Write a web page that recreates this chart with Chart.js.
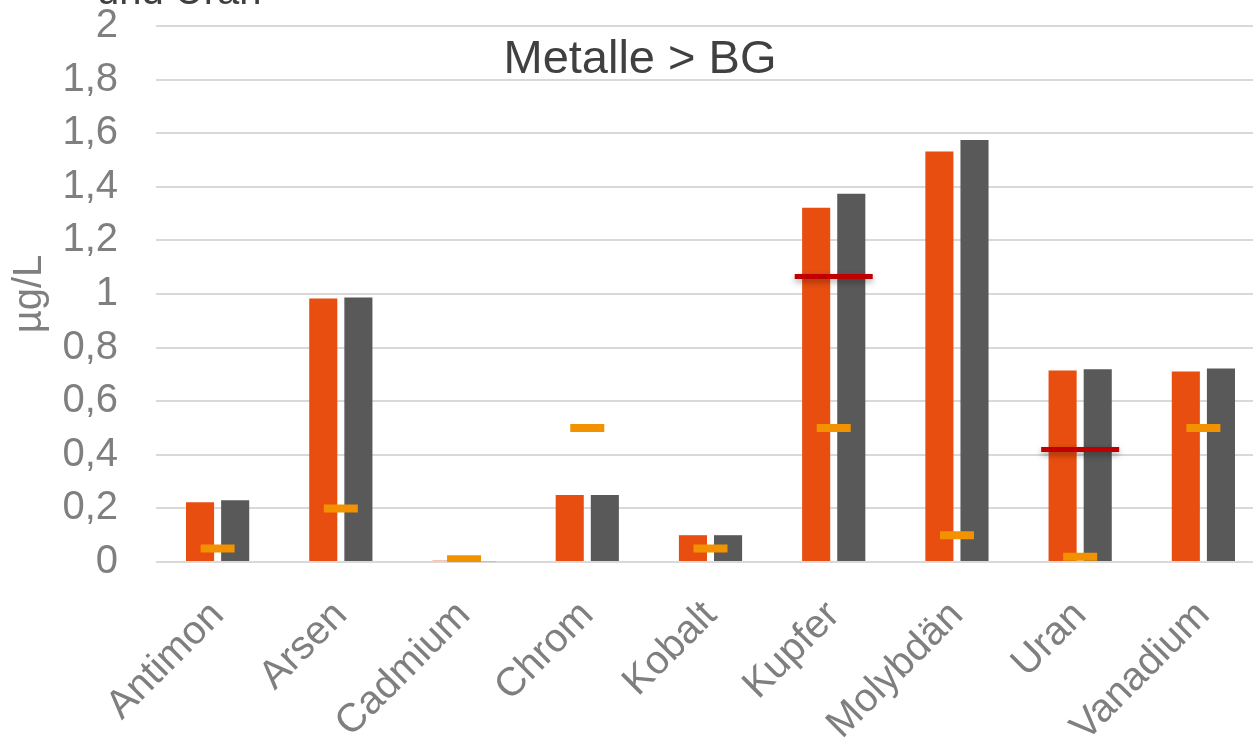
<!DOCTYPE html>
<html>
<head>
<meta charset="utf-8">
<script src="https://cdn.jsdelivr.net/npm/chart.js@4/dist/chart.umd.min.js"></script>
<style>
  body { margin: 0; overflow: hidden; background: #fff; font-family: "Liberation Sans", Arial, sans-serif; }
  #wrap { position: relative; width: 1265px; height: 750px; }
  #topText { position: absolute; left: 97px; top: -30px; font-size: 40px; line-height: 40px; color: #404040; white-space: nowrap; }
  #chartTitle { position: absolute; left: 0; width: 1280px; top: 30px; text-align: center; font-size: 47px; line-height: 54px; color: #404040; z-index: 2; }
</style>
</head>
<body>
<div id="wrap">
  <canvas id="myChart" width="1265" height="750"></canvas>
  <div id="topText">und Uran</div>
  <div id="chartTitle">Metalle &gt; BG</div>
</div>
<script>
var categories = ['Antimon', 'Arsen', 'Cadmium', 'Chrom', 'Kobalt', 'Kupfer', 'Molybdän', 'Uran', 'Vanadium'];
var mittelwert = [0.223, 0.983, 0.005, 0.25, 0.1, 1.322, 1.532, 0.715, 0.711];
var maximum = [0.23, 0.987, 0.003, 0.25, 0.1, 1.374, 1.575, 0.719, 0.722];
var bestimmungsgrenze = [0.05, 0.2, 0.01, 0.5, 0.05, 0.5, 0.1, 0.02, 0.5];
var grenzwert = [null, null, null, null, null, 1.065, null, 0.42, null];
var yTickLabels = ['0', '0,2', '0,4', '0,6', '0,8', '1', '1,2', '1,4', '1,6', '1,8', '2'];

var shadowPlugin = {
    id: 'shadow',
    beforeDatasetDraw: function(chart, args) {
        if (args.index === 3) {
            var ctx = chart.ctx;
            ctx.save();
            ctx.shadowColor = 'rgba(0,0,0,0.35)';
            ctx.shadowBlur = 6;
            ctx.shadowOffsetY = 3;
        }
    },
    afterDatasetDraw: function(chart, args) {
        if (args.index === 3) {
            chart.ctx.restore();
        }
    }
};

// keep the plot area where the original has it
function noPadding(scale) {
    scale.paddingTop = 0;
    scale.paddingBottom = 0;
    scale.paddingLeft = 0;
    scale.paddingRight = 0;
}

function chart() {
    var ctx = document.getElementById('myChart');
    var myChart = new Chart(ctx, {
        type: 'bar',
        data: {
            labels: categories,
            datasets: [
            {
                label: 'Mittelwert',
                data: mittelwert,
                backgroundColor: '#E84E0F',
                order: 2
            },
            {
                label: 'Maximum',
                data: maximum,
                backgroundColor: '#595959',
                order: 2
            },
            {
                type: 'line',
                label: 'Bestimmungsgrenze',
                data: bestimmungsgrenze,
                showLine: false,
                pointStyle: 'line',
                pointRadius: 17,
                pointBorderWidth: 8,
                borderColor: '#F39200',
                backgroundColor: '#F39200',
                order: 0
            },
            {
                type: 'line',
                label: 'Grenzwert',
                data: grenzwert,
                showLine: false,
                pointStyle: 'line',
                pointRadius: 39,
                pointBorderWidth: 5,
                borderColor: '#C00000',
                backgroundColor: '#C00000',
                order: 1
            }]
        },
        options: {
            responsive: false,
            animation: false,
            events: [],
            layout: { autoPadding: false, padding: { top: 26, left: 0, right: 0, bottom: 0 } },
            categoryPercentage: 0.57,
            barPercentage: 0.8,
            plugins: {
                legend: { display: false },
                tooltip: { enabled: false }
            },
            scales: {
                x: {
                    grid: { display: false },
                    border: { display: false },
                    ticks: {
                        color: '#7F7F7F',
                        font: { family: 'Liberation Sans', size: 40 },
                        minRotation: 45,
                        maxRotation: 45,
                        autoSkip: false,
                        padding: 22
                    },
                    afterFit: function(scale) { scale.height = 188; noPadding(scale); }
                },
                y: {
                    min: 0,
                    max: 2,
                    ticks: {
                        stepSize: 0.2,
                        autoSkip: false,
                        color: '#7F7F7F',
                        font: { family: 'Liberation Sans', size: 40 },
                        padding: 38,
                        callback: function(v, i) { return yTickLabels[i]; }
                    },
                    grid: { color: '#D9D9D9', lineWidth: 2, drawTicks: false },
                    border: { display: false },
                    title: {
                        display: true,
                        text: 'µg/L',
                        color: '#7F7F7F',
                        font: { family: 'Liberation Sans', size: 40 },
                        padding: { top: 6, bottom: 0 }
                    },
                    afterFit: function(scale) { scale.width = 156; noPadding(scale); }
                }
            }
        },
        plugins: [shadowPlugin]
    });
}

chart();
</script>
</body>
</html>
